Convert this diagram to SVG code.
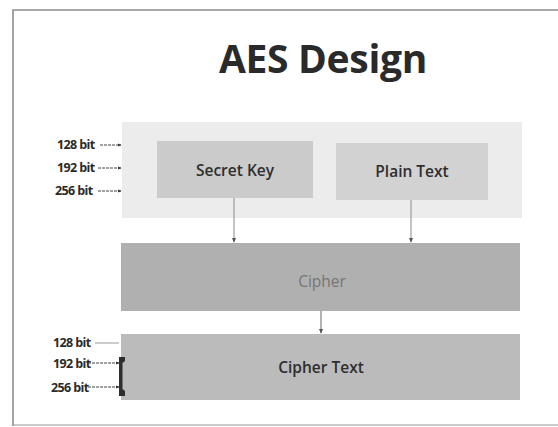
<svg xmlns="http://www.w3.org/2000/svg" width="558" height="427" viewBox="0 0 558 427">
  <defs>
    <marker id="ah" viewBox="0 0 6 6" refX="5" refY="3" markerWidth="5" markerHeight="5" orient="auto" markerUnits="userSpaceOnUse">
      <path d="M0,0.5 L6,3 L0,5.5 Z" fill="#555"/>
    </marker>
    <marker id="ahs" viewBox="0 0 6 6" refX="5" refY="3" markerWidth="4" markerHeight="4" orient="auto" markerUnits="userSpaceOnUse">
      <path d="M0,0.5 L6,3 L0,5.5 Z" fill="#333"/>
    </marker>
  </defs>
  <style>
    .title { font-family: "Open Sans", "Noto Sans", sans-serif; font-weight: 700; font-size: 39px; fill: #2a2a2a; letter-spacing: -0.3px; }
    .lbl { font-family: "Open Sans", "Noto Sans", sans-serif; font-weight: 600; font-size: 15.5px; fill: #2e2e2e; text-anchor: middle; }
    .bit { font-family: "Open Sans", "Noto Sans", sans-serif; font-weight: 700; font-size: 12.5px; fill: #2a2a2a; letter-spacing: -0.6px; }
    .conn { stroke: #8a8a8a; stroke-width: 1; fill: none; }
    .bitline { stroke: #444; stroke-width: 1; stroke-dasharray: 3 1; fill: none; }
  </style>
  <rect x="0" y="0" width="558" height="427" fill="#ffffff"/>
  <!-- frame -->
  <path d="M13,426 L13,10 L558,10" fill="none" stroke="#8c8c8c" stroke-width="1.6"/>
  <line x1="13" y1="425" x2="558" y2="425" stroke="#9a9a9a" stroke-width="1.2"/>

  <g id="title">
    <text class="title" x="323" y="73" text-anchor="middle">AES Design</text>
  </g>

  <g id="input-panel">
    <rect x="122" y="122" width="400" height="96" fill="#ececec"/>
  </g>

  <g id="secret-key">
    <rect x="157" y="141" width="156" height="57" fill="#cbcbcb"/>
    <text class="lbl" x="235" y="176">Secret Key</text>
  </g>

  <g id="plain-text">
    <rect x="336" y="143" width="152" height="57" fill="#d2d2d2"/>
    <text class="lbl" x="412" y="177">Plain Text</text>
  </g>

  <g id="cipher">
    <rect x="121" y="243" width="399" height="68" fill="#b0b0b0"/>
    <text class="lbl" x="322" y="287" style="fill:#767676;font-weight:500">Cipher</text>
  </g>

  <g id="cipher-text">
    <rect x="121" y="334" width="399" height="66" fill="#bbbbbb"/>
    <text class="lbl" x="321" y="373">Cipher Text</text>
  </g>

  <g id="key-sizes-top">
    <text class="bit" x="57" y="149">128 bit</text>
    <text class="bit" x="57" y="172">192 bit</text>
    <text class="bit" x="55" y="195">256 bit</text>
  </g>

  <g id="key-sizes-bottom">
    <text class="bit" x="53" y="347">128 bit</text>
    <text class="bit" x="53" y="368">192 bit</text>
    <text class="bit" x="51" y="392">256 bit</text>
    <path d="M119,357 L125,357 L125,361 L122.5,363 L122.5,389 L125,391 L125,396 L119,396 Z" fill="#2e2e2e"/>
  </g>

  <g id="connectors">
    <line class="bitline" x1="100" y1="145" x2="121" y2="145" marker-end="url(#ahs)"/>
    <line class="bitline" x1="98" y1="168" x2="121" y2="168" marker-end="url(#ahs)"/>
    <line class="bitline" x1="98" y1="191" x2="121" y2="191" marker-end="url(#ahs)"/>
    <line x1="95" y1="343" x2="119" y2="343" stroke="#999" stroke-width="1"/>
    <line class="bitline" x1="88" y1="363" x2="119" y2="363" marker-end="url(#ahs)"/>
    <line class="bitline" x1="88" y1="387" x2="119" y2="387" marker-end="url(#ahs)"/>
    <line class="conn" x1="234" y1="198" x2="234" y2="242" marker-end="url(#ah)"/>
    <line class="conn" x1="411" y1="200" x2="411" y2="242" marker-end="url(#ah)"/>
    <line class="conn" x1="321" y1="311" x2="321" y2="333" marker-end="url(#ah)" style="stroke:#666"/>
  </g>
</svg>
